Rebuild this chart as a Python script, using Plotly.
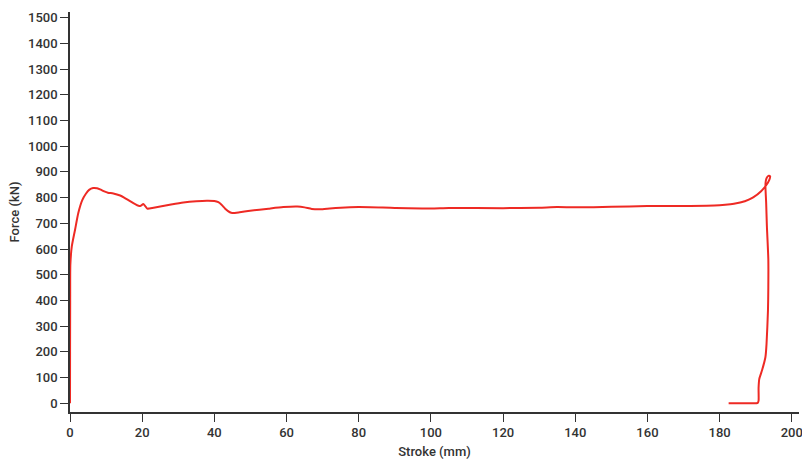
import plotly.graph_objects as go

stroke_mm = [0, 0.02, 0.05, 0.1, 0.5, 1.4, 2.3, 3.4, 4.4, 5.3, 6.4, 7.5, 8.5, 9.5, 10.5, 12, 13.9, 15, 17, 19.2,
             19.8, 20.3, 20.8, 21.4, 22, 25, 28, 31.4, 35, 37.9, 40, 41.1, 42, 43, 44.3, 45, 47,
             49.9, 55, 59.1, 63, 65, 67, 70, 72, 75, 80, 90, 100, 105, 120, 130, 135, 140, 150,
             160, 170, 180, 183, 185, 187, 189.3, 191.5, 193.0, 193.8, 194.0, 193.6, 193.1, 192.8,
             192.7, 192.9, 193.1, 193.5, 193.5, 193.4, 193.0, 192.7, 191.8, 191.0, 190.8, 190.8,
             190.6, 190.2, 186, 182.5]
force_kN = [0, 200, 400, 540, 610, 675, 740, 790, 815, 830, 837, 836, 831, 824, 819, 816, 808,
            800, 783, 767, 770, 775, 768, 757, 758, 765, 773, 781, 786, 788, 787, 782, 772, 757, 743,
            740, 743, 749, 757, 763, 765, 762, 756, 755, 758, 761, 763, 760, 758, 760, 759, 761, 763,
            762, 764, 767, 767, 770, 774, 779, 786, 801, 825, 850, 870, 882, 885, 878, 865, 845, 780,
            690, 560, 450, 360, 230, 180, 130, 95, 60, 10, 2, 0, 0, 0]

x_ticks = [0, 20, 40, 60, 80, 100, 120, 140, 160, 180, 200]
y_ticks = list(range(0, 1600, 100))

fig = go.Figure()
fig.add_trace(go.Scatter(
    x=stroke_mm, y=force_kN, mode="lines",
    line=dict(color="#ee2a24", width=2, shape="spline", smoothing=0.6),
    hoverinfo="skip", showlegend=False,
))

axis_font = dict(family="Roboto, 'Open Sans', sans-serif", size=13, color="#333333", weight=500)
fig.update_layout(
    width=802, height=462,
    margin=dict(l=70, r=3, t=12, b=50, autoexpand=False),
    paper_bgcolor="white", plot_bgcolor="white",
    font=axis_font,
    xaxis=dict(
        range=[0, 202], tickvals=x_ticks, ticks="outside", ticklen=8, tickwidth=1.3,
        tickcolor="#333333", showline=True, linecolor="#333333", linewidth=1.5,
        showgrid=False, zeroline=False, tickfont=axis_font, ticklabeloverflow="allow",
        automargin=False,
        title=dict(text="Stroke (mm)", font=axis_font, standoff=8),
    ),
    yaxis=dict(
        range=[-34, 1522], tickvals=y_ticks, ticks="outside", ticklen=8, tickwidth=1.3,
        tickcolor="#333333", showline=True, linecolor="#333333", linewidth=1.5,
        showgrid=False, zeroline=False, tickfont=axis_font, ticklabeloverflow="allow",
        automargin=False,
        title=dict(text="Force (kN)", font=axis_font, standoff=6),
    ),
)
fig.write_html("out.html")
